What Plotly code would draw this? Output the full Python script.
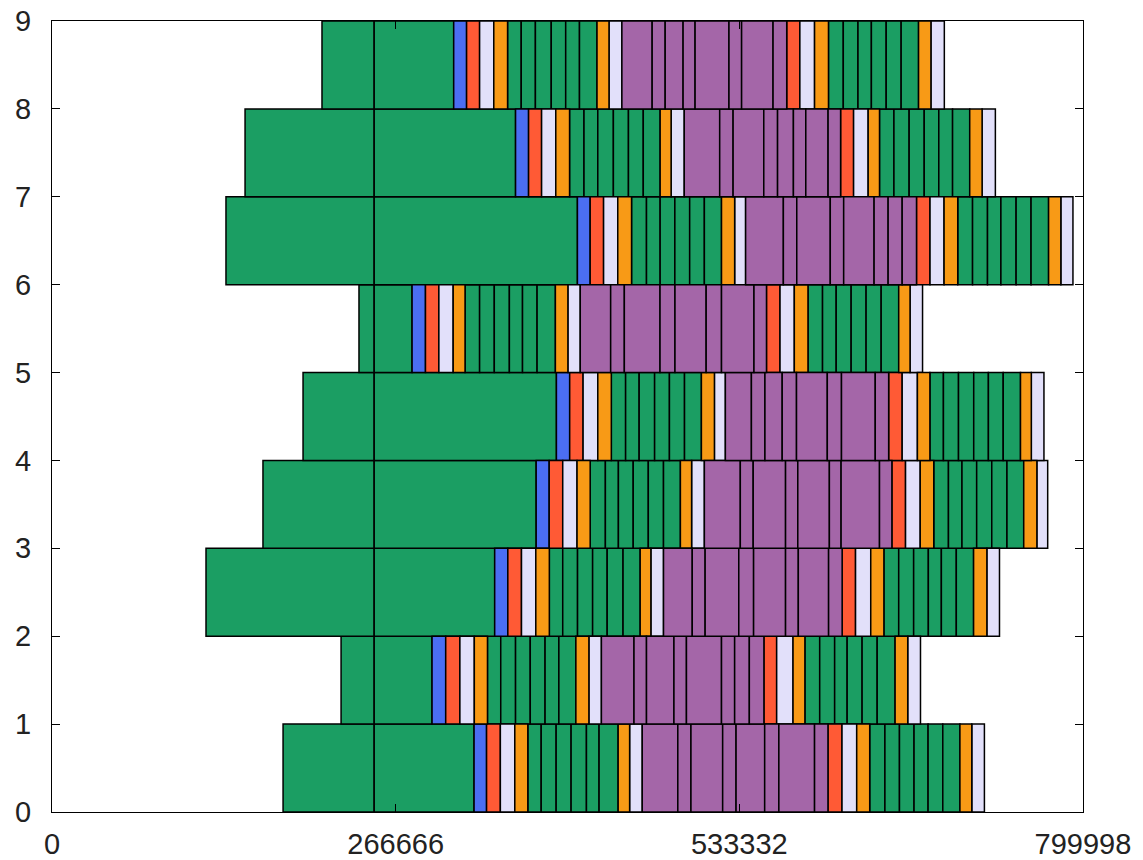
import plotly.graph_objects as go

# Segment kinds, in order, shared by every row
segment_kinds = ["G", "G", "B", "R", "L", "O",
                 "G", "G", "G", "G", "G", "G", "O", "L",
                 "P", "P", "P", "P", "P", "P", "P", "P",
                 "R", "L", "O",
                 "G", "G", "G", "G", "G", "G", "O", "L"]

kind_colors = {"G": "#1b9e63", "B": "#4b6ef2", "R": "#ff5a35",
               "L": "#e2e0fa", "O": "#f89a16", "P": "#a466a8"}

# Row start values and segment end values (thousands)
row_starts = [179.3, 224.3, 119.5, 163.7, 194.8, 238.2, 135.0, 149.8, 209.5]

ends_row0 = [250.0, 327.5, 337.2, 347.9, 359.1, 369.2, 379.6, 391.2, 402.8, 414.7, 424.5, 439.3, 448.2, 458.0,
             485.6, 495.8, 520.4, 530.8, 553.0, 564.0, 591.7, 602.1, 613.0, 624.4, 634.5, 646.3, 657.6, 668.9,
             679.8, 691.2, 704.5, 713.7, 723.5]
ends_row1 = [250.0, 294.9, 305.5, 316.5, 327.7, 337.9, 348.2, 359.7, 371.1, 382.6, 393.3, 406.5, 416.6, 426.3,
             451.6, 461.3, 482.6, 492.3, 519.5, 529.7, 541.1, 552.4, 562.3, 575.0, 584.2, 595.7, 607.3, 617.0,
             628.6, 640.3, 654.2, 664.0, 673.9]
ends_row2 = [250.0, 343.5, 353.7, 364.3, 375.4, 385.9, 396.3, 407.8, 419.5, 430.8, 443.1, 456.4, 464.7, 474.5,
             496.8, 506.8, 532.9, 544.4, 569.2, 579.1, 602.6, 613.1, 623.5, 635.3, 645.5, 657.0, 668.6, 680.0,
             690.1, 701.7, 715.1, 725.4, 735.2]
ends_row3 = [250.0, 375.7, 385.8, 396.3, 407.4, 417.6, 429.4, 439.5, 451.0, 462.7, 474.5, 487.6, 496.3, 506.2,
             534.1, 544.1, 569.2, 578.7, 603.2, 612.3, 642.1, 651.7, 662.3, 673.7, 684.2, 695.6, 706.1, 717.5,
             729.2, 741.0, 754.0, 764.2, 772.6]
ends_row4 = [250.0, 391.4, 401.7, 412.1, 423.5, 434.0, 445.1, 455.6, 467.6, 479.1, 490.8, 503.9, 514.0, 522.5,
             542.7, 553.2, 566.6, 577.7, 601.6, 612.6, 638.8, 649.2, 659.7, 671.5, 681.2, 691.7, 703.4, 715.2,
             726.6, 738.1, 751.5, 759.9, 769.7]
ends_row5 = [250.0, 279.4, 289.8, 300.2, 311.3, 320.5, 331.8, 343.2, 354.9, 365.1, 376.4, 390.6, 400.3, 409.9,
             433.5, 444.1, 471.8, 483.4, 507.6, 519.5, 544.7, 554.4, 564.9, 576.0, 586.6, 597.9, 608.5, 620.1,
             631.7, 643.4, 657.0, 665.8, 675.5]
ends_row6 = [250.0, 407.7, 417.6, 428.0, 439.0, 449.7, 461.3, 471.9, 483.3, 494.8, 506.2, 519.5, 529.7, 538.2,
             567.5, 577.9, 603.9, 614.3, 637.9, 648.8, 659.7, 670.8, 681.3, 692.2, 702.8, 714.3, 725.9, 736.3,
             748.1, 759.7, 773.3, 782.8, 792.2]
ends_row7 = [250.0, 359.7, 369.8, 379.9, 390.9, 401.6, 412.8, 423.5, 435.6, 447.3, 458.8, 471.9, 480.4, 490.6,
             518.1, 528.5, 552.3, 563.0, 575.3, 584.9, 602.2, 611.9, 622.0, 633.3, 642.1, 653.3, 665.1, 676.8,
             688.1, 698.8, 712.1, 721.7, 732.0]
ends_row8 = [250.0, 311.7, 321.7, 331.8, 342.8, 353.5, 364.1, 375.1, 387.4, 398.6, 409.3, 422.9, 432.2, 442.2,
             465.7, 475.8, 489.7, 499.0, 525.3, 535.1, 559.5, 570.1, 580.3, 591.7, 602.5, 614.0, 625.4, 635.8,
             647.3, 658.9, 672.4, 682.0, 692.4]

all_ends = [ends_row0, ends_row1, ends_row2, ends_row3, ends_row4,
            ends_row5, ends_row6, ends_row7, ends_row8]

x_tick_vals = [0, 266666, 533332, 799998]
x_tick_text = ["0", "266666", "533332", "799998"]
y_tick_vals = list(range(10))

SCALE = 1000

# Build one trace per kind
per_kind = {k: {"y": [], "base": [], "x": []} for k in kind_colors}
for row, (start, ends) in enumerate(zip(row_starts, all_ends)):
    prev = start
    for kind, end in zip(segment_kinds, ends):
        per_kind[kind]["y"].append(row + 0.5)
        per_kind[kind]["base"].append(prev * SCALE)
        per_kind[kind]["x"].append((end - prev) * SCALE)
        prev = end

fig = go.Figure()
for kind, d in per_kind.items():
    fig.add_trace(go.Bar(
        y=d["y"], x=d["x"], base=d["base"], orientation="h",
        width=1, marker=dict(color=kind_colors[kind], line=dict(color="black", width=1.5)),
        showlegend=False, name=kind))

fig.update_layout(
    width=1143, height=860,
    margin=dict(l=44, r=68, t=13, b=56),
    plot_bgcolor="white", paper_bgcolor="white",
    barmode="overlay",
    font=dict(family="Liberation Sans, Arial, sans-serif", size=29, color="#222"),
)
fig.update_xaxes(range=[0, 799998], tickvals=x_tick_vals, ticktext=x_tick_text,
                 showgrid=False, zeroline=False, showline=True, linecolor="black", linewidth=1,
                 mirror="ticks", ticks="inside", ticklen=8, tickcolor="black",
                 ticklabelstandoff=6, automargin=False, ticklabeloverflow="allow")
fig.update_yaxes(range=[0, 9], tickvals=y_tick_vals,
                 showgrid=False, zeroline=False, showline=True, linecolor="black", linewidth=1,
                 mirror="ticks", ticks="inside", ticklen=8, tickcolor="black",
                 ticklabelstandoff=14, automargin=False, ticklabeloverflow="allow")

fig.write_html("out.html")
